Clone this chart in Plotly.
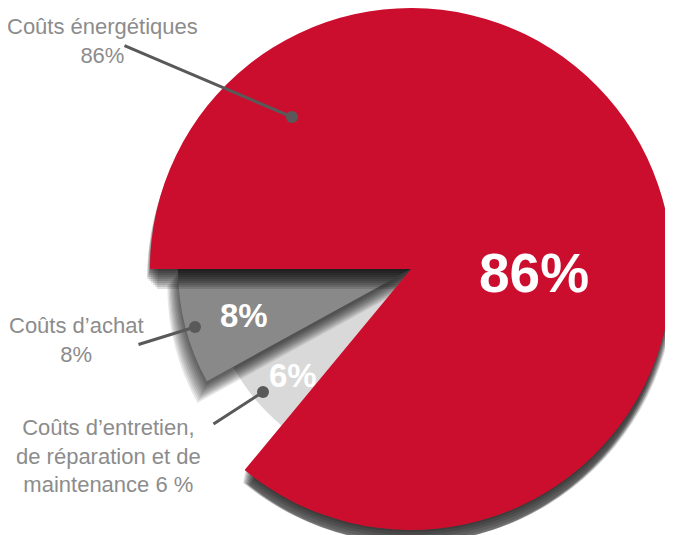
import plotly.graph_objects as go

# ---- data ----
categories = ["Coûts énergétiques", "Coûts d’achat",
              "Coûts d’entretien, de réparation et de maintenance"]
values = [86, 8, 6]
callout_texts = ["Coûts énergétiques<br>86%",
                 "Coûts d’achat<br>8%",
                 "Coûts d’entretien,<br>de réparation et de<br>maintenance 6 %"]
slice_colors = ["#CC0E2E", "#898989", "#D9D9D9"]

# ---- layout geometry (page pixels) ----
W, H = 673, 535
OFF = 8                      # default page body margin
CX, CY = 411, 269            # pie centre on the page
RADII = [261, 233, 203]      # radius per slice
TRANSPARENT = "rgba(0,0,0,0)"
FONT = "Liberation Sans, Arial, sans-serif"


def domain(cx, cy, r):
    fx, fy = cx - OFF, cy - OFF
    return dict(x=[max((fx - r) / W, 0), min((fx + r) / W, 1)],
                y=[max(1 - (fy + r) / H, 0), min(1 - (fy - r) / H, 1)])


def slice_trace(idx, color, cx, cy, r, hover=True):
    colors = [TRANSPARENT] * len(values)
    colors[idx] = color
    return go.Pie(labels=categories, values=values, sort=False,
                  direction="counterclockwise", rotation=-90,
                  marker=dict(colors=colors, line=dict(width=0)),
                  textinfo="none",
                  hoverinfo="label+percent" if hover else "skip",
                  domain=domain(cx, cy, r), showlegend=False)


fig = go.Figure()
# light grey slice
fig.add_trace(slice_trace(2, slice_colors[2], CX, CY, RADII[2]))
# soft shadow of the grey slice
for k in range(10):
    dy = 3 + 1.5 * k
    fig.add_trace(slice_trace(1, "rgba(0,0,0,0.09)", CX, CY + dy, RADII[1] + 1.2 * k, hover=False))
# grey slice
fig.add_trace(slice_trace(1, slice_colors[1], CX, CY, RADII[1]))
# soft shadow of the red slice
for k in range(10):
    dy = 2 + 2 * k
    fy = CY - OFF + dy
    r = min(RADII[0] + 0.8 * k, H - fy)
    fig.add_trace(slice_trace(0, "rgba(0,0,0,0.13)", CX, CY + dy, r, hover=False))
# red slice
fig.add_trace(slice_trace(0, slice_colors[0], CX, CY, RADII[0]))


def px(x, y):
    return (x - OFF) / W, 1 - (y - OFF) / H


annotations = []
# percentages inside slices
inside_pos = [(534, 273, 55), (244, 315, 33), (293, 375, 33)]
for v, (x, y, s) in zip(values, inside_pos):
    ax_, ay_ = px(x, y)
    annotations.append(dict(x=ax_, y=ay_, xref="paper", yref="paper", text=f"{v}%",
                            showarrow=False, xanchor="center", yanchor="middle",
                            font=dict(family=FONT, size=s, color="white", weight="bold")))
# callout labels
label_pos = [(102, 41), (76, 340), (108, 456)]
for t, (x, y) in zip(callout_texts, label_pos):
    ax_, ay_ = px(x, y)
    annotations.append(dict(x=ax_, y=ay_, xref="paper", yref="paper", text=t,
                            showarrow=False, xanchor="center", yanchor="middle",
                            font=dict(family=FONT, size=22, color="#8C8C8C")))
# leader lines with dots
leaders = [((292, 117), (123, 45)), ((195, 327), (137, 345)), ((263, 392), (212, 425))]
for (hx, hy), (tx, ty) in leaders:
    ax_, ay_ = px(hx, hy)
    annotations.append(dict(x=ax_, y=ay_, xref="paper", yref="paper", text="",
                            showarrow=True, arrowhead=6, arrowsize=1, arrowwidth=3,
                            arrowcolor="#595959", ax=tx - hx, ay=ty - hy,
                            standoff=0, startstandoff=0))

fig.update_layout(width=W, height=H, margin=dict(l=0, r=0, t=0, b=0),
                  paper_bgcolor="white", plot_bgcolor="white",
                  showlegend=False, annotations=annotations)

fig.write_html("out.html")
